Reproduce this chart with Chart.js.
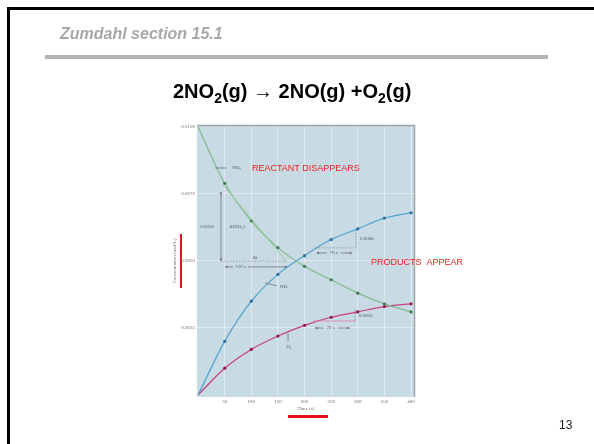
<!DOCTYPE html>
<html>
<head>
<meta charset="utf-8">
<script src="https://cdn.jsdelivr.net/npm/chart.js@4/dist/chart.umd.min.js"></script>
<style>
  html, body { margin: 0; padding: 0; background: #fff; }
  body { width: 594px; height: 444px; position: relative; overflow: hidden; font-family: "Liberation Sans", Arial, sans-serif; }
  #chart { position: absolute; left: 0; top: 0; }
  .abs { position: absolute; white-space: nowrap; }
  .frame { left: 7px; top: 7px; width: 620px; height: 470px; border-left: 3px solid #000; border-top: 3px solid #000; }
  .section { left: 60px; top: 25px; font-size: 16px; font-weight: bold; font-style: italic; color: #a8a8a8; }
  .rule { left: 45px; top: 55px; width: 503px; height: 4px; background: #b3b3b3; }
  .title { left: 173px; top: 80px; font-size: 20px; font-weight: bold; color: #000; }
  .title .sb { font-size: 14px; position: relative; top: 5px; }
  .red { color: #f01e1e; font-size: 9px; }
  .redbar { background: #e8101a; }
  .page { left: 559px; top: 418px; font-size: 12px; color: #222; }
</style>
</head>
<body>
<canvas id="chart" width="594" height="444"></canvas>
<div class="abs frame"></div>
<div class="abs section">Zumdahl section 15.1</div>
<div class="abs rule"></div>
<div class="abs title">2NO<span class="sb">2</span>(g) → 2NO(g) +O<span class="sb">2</span>(g)</div>
<div class="abs red" style="left:252px; top:163px;">REACTANT DISAPPEARS</div>
<div class="abs red" style="left:371px; top:257px;">PRODUCTS&nbsp;&nbsp;APPEAR</div>
<div class="abs redbar" style="left:180px; top:234px; width:2px; height:54px;"></div>
<div class="abs redbar" style="left:288px; top:415px; width:40px; height:3px;"></div>
<div class="abs page">13</div>
<script>
// Time in seconds and concentrations in mol/L
const times = [0, 50, 100, 150, 200, 250, 300, 350, 400];
const no2Conc = [0.0100, 0.0079, 0.0065, 0.0055, 0.0048, 0.0043, 0.0038, 0.0034, 0.0031];
const noConc  = [0, 0.0020, 0.0035, 0.0045, 0.0052, 0.0058, 0.0062, 0.0066, 0.0068];
const o2Conc  = [0, 0.0010, 0.0017, 0.0022, 0.0026, 0.0029, 0.0031, 0.0033, 0.0034];

const xTickValues = [50, 100, 150, 200, 250, 300, 350, 400];
const xTickLabels = ["50", "100", "150", "200", "250", "300", "350", "400"];
const yTickValues = [0.0025, 0.0050, 0.0075, 0.0100];
const yTickLabels = ["0.0025", "0.0050", "0.0075", "0.0100"];

const xTitle = "Time (s)";
const yTitle = "Concentration (mol/L)";

const toPoints = vals => times.map((t, i) => ({ x: t, y: vals[i] }));

// Small figure labels, placed in data units (seconds, mol/L)
const figLines = [
  // tangent to the NO2 curve at 100 s
  { from: [47, 0.00784], to: [167, 0.00496], color: "rgba(150,205,150,0.95)", width: 1 },
  // leader lines for curve names
  { from: [32, 0.00847], to: [54, 0.00847], color: "#666", width: 0.7 },
  { from: [126, 0.00418], to: [148, 0.00407], color: "#666", width: 0.7 },
  { from: [169, 0.00231], to: [169, 0.00201], color: "#666", width: 0.7 },
  // triangle on the NO2 curve
  { from: [43, 0.0050], to: [167, 0.0050], color: "#777", width: 0.7, dash: [1.5, 1.5] },
  // triangle on the NO curve
  { from: [220, 0.00549], to: [297, 0.00549], color: "#888", width: 0.7, dash: [1.5, 1.5] },
  { from: [297, 0.00616], to: [297, 0.00549], color: "#777", width: 0.7, dash: [1.5, 1.5] },
  // triangle on the O2 curve
  { from: [216, 0.00276], to: [295, 0.00276], color: "rgba(225,120,165,0.95)", width: 0.8 },
  { from: [295, 0.00317], to: [295, 0.00276], color: "#777", width: 0.7, dash: [1.5, 1.5] }
];
const figArrows = [
  { from: [43, 0.00757], to: [43, 0.0050] },
  { from: [66, 0.00478], to: [51, 0.00478], single: true },
  { from: [94, 0.00478], to: [167, 0.00478], single: true },
  { from: [242, 0.0053], to: [223, 0.0053], single: true },
  { from: [268, 0.0053], to: [289, 0.0053], single: true },
  { from: [236, 0.0025], to: [220, 0.0025], single: true },
  { from: [262, 0.0025], to: [285, 0.0025], single: true }
];
const figTexts = [
  { at: [64, 0.00847], text: "NO₂", align: "left" },
  { at: [17, 0.00627], text: "0.0026", align: "center" },
  { at: [73, 0.00627], text: "Δ[NO₂]", align: "center" },
  { at: [107, 0.00511], text: "Δt", align: "center" },
  { at: [80, 0.00478], text: "110 s", align: "center" },
  { at: [154, 0.00403], text: "NO", align: "left" },
  { at: [304, 0.00582], text: "0.0006", align: "left" },
  { at: [255, 0.0053], text: "70 s", align: "center" },
  { at: [171, 0.00179], text: "O₂", align: "center" },
  { at: [302, 0.00295], text: "0.0003", align: "left" },
  { at: [249, 0.0025], text: "70 s", align: "center" }
];

const plotBg = "#c8dae3";
const gridColor = "rgba(240,247,250,0.55)";
const labelColor = "#6a6a6a";
const tinyFont = '"Liberation Serif", "DejaVu Serif", serif';

function arrowHead(ctx, x0, y0, x1, y1, s) {
  const a = Math.atan2(y1 - y0, x1 - x0);
  ctx.beginPath();
  ctx.moveTo(x1, y1);
  ctx.lineTo(x1 - s * Math.cos(a - 0.5), y1 - s * Math.sin(a - 0.5));
  ctx.lineTo(x1 - s * Math.cos(a + 0.5), y1 - s * Math.sin(a + 0.5));
  ctx.closePath();
  ctx.fill();
}

const figurePlugin = {
  id: "figure",
  beforeDraw(chart) {
    const { ctx, chartArea: a } = chart;
    ctx.save();
    ctx.fillStyle = plotBg;
    ctx.fillRect(a.left, a.top, a.right - a.left, a.bottom - a.top);
    ctx.restore();
  },
  afterDraw(chart) {
    const { ctx, chartArea: a } = chart;
    const xs = chart.scales.x, ys = chart.scales.y;
    const px = t => xs.getPixelForValue(t);
    const py = v => ys.getPixelForValue(v);
    ctx.save();

    // plot frame: top and right edges
    ctx.strokeStyle = "#9aa4aa";
    ctx.lineWidth = 1.5;
    ctx.beginPath();
    ctx.moveTo(a.left, a.top + 0.5);
    ctx.lineTo(a.right - 0.5, a.top + 0.5);
    ctx.lineTo(a.right - 0.5, a.bottom);
    ctx.stroke();

    // figure lines
    figLines.forEach(l => {
      ctx.strokeStyle = l.color;
      ctx.lineWidth = l.width;
      ctx.setLineDash(l.dash || []);
      ctx.beginPath();
      ctx.moveTo(px(l.from[0]), py(l.from[1]));
      ctx.lineTo(px(l.to[0]), py(l.to[1]));
      ctx.stroke();
    });
    ctx.setLineDash([]);

    // arrows
    ctx.strokeStyle = "#666";
    ctx.fillStyle = "#666";
    ctx.lineWidth = 0.7;
    figArrows.forEach(r => {
      const x0 = px(r.from[0]), y0 = py(r.from[1]);
      const x1 = px(r.to[0]), y1 = py(r.to[1]);
      ctx.beginPath();
      ctx.moveTo(x0, y0);
      ctx.lineTo(x1, y1);
      ctx.stroke();
      arrowHead(ctx, x0, y0, x1, y1, 2.5);
      if (!r.single) arrowHead(ctx, x1, y1, x0, y0, 2.5);
    });

    // small labels
    ctx.fillStyle = "#555";
    ctx.font = "5px " + tinyFont;
    ctx.textBaseline = "middle";
    figTexts.forEach(t => {
      ctx.textAlign = t.align;
      ctx.fillText(t.text, px(t.at[0]), py(t.at[1]));
    });

    // axis titles
    ctx.fillStyle = labelColor;
    ctx.font = "5px " + tinyFont;
    ctx.textAlign = "center";
    ctx.fillText(xTitle, (a.left + a.right) / 2, a.bottom + 12);
    ctx.translate(175, (a.top + a.bottom) / 2);
    ctx.rotate(-Math.PI / 2);
    ctx.fillText(yTitle, 0, 0);
    ctx.restore();
  }
};

const seriesStyle = (line, dot) => ({
  borderColor: line,
  backgroundColor: dot,
  pointBackgroundColor: dot,
  pointBorderColor: dot,
  pointRadius: ctx => (ctx.dataIndex === 0 ? 0 : 1.6),
  pointBorderWidth: 0,
  borderWidth: 1.2,
  cubicInterpolationMode: "monotone",
  fill: false
});

new Chart(document.getElementById("chart"), {
  type: "line",
  data: {
    datasets: [
      Object.assign({ label: "NO2", data: toPoints(no2Conc) }, seriesStyle("#80b98f", "#3f7a55")),
      Object.assign({ label: "NO", data: toPoints(noConc) }, seriesStyle("#4ea3d3", "#2a6f9e")),
      Object.assign({ label: "O2", data: toPoints(o2Conc) }, seriesStyle("#c8407f", "#8e1848"))
    ]
  },
  options: {
    responsive: false,
    animation: false,
    devicePixelRatio: 1,
    events: [],
    layout: { padding: { left: 0, top: 125, right: 179, bottom: 27 } },
    plugins: { legend: { display: false }, tooltip: { enabled: false } },
    scales: {
      x: {
        type: "linear",
        min: -2,
        max: 407.5,
        afterFit: s => { s.height = 20; },
        afterBuildTicks: s => { s.ticks = xTickValues.map(v => ({ value: v })); },
        ticks: {
          autoSkip: false,
          maxRotation: 0,
          padding: 2,
          color: labelColor,
          font: { size: 5, family: tinyFont },
          callback: (v, i) => xTickLabels[i]
        },
        grid: { drawTicks: false, color: gridColor, lineWidth: 1 },
        border: { display: false }
      },
      y: {
        type: "linear",
        min: -0.000075,
        max: 0.0100746,
        afterFit: s => { s.width = 197; },
        afterBuildTicks: s => { s.ticks = yTickValues.map(v => ({ value: v })); },
        ticks: {
          autoSkip: false,
          padding: 2,
          color: labelColor,
          font: { size: 5, family: tinyFont },
          callback: (v, i) => yTickLabels[i]
        },
        grid: {
          drawTicks: false,
          color: c => (c.tick && c.tick.value >= 0.01 ? "rgba(0,0,0,0)" : gridColor),
          lineWidth: 1
        },
        border: { display: false }
      }
    }
  },
  plugins: [figurePlugin]
});
</script>
</body>
</html>
